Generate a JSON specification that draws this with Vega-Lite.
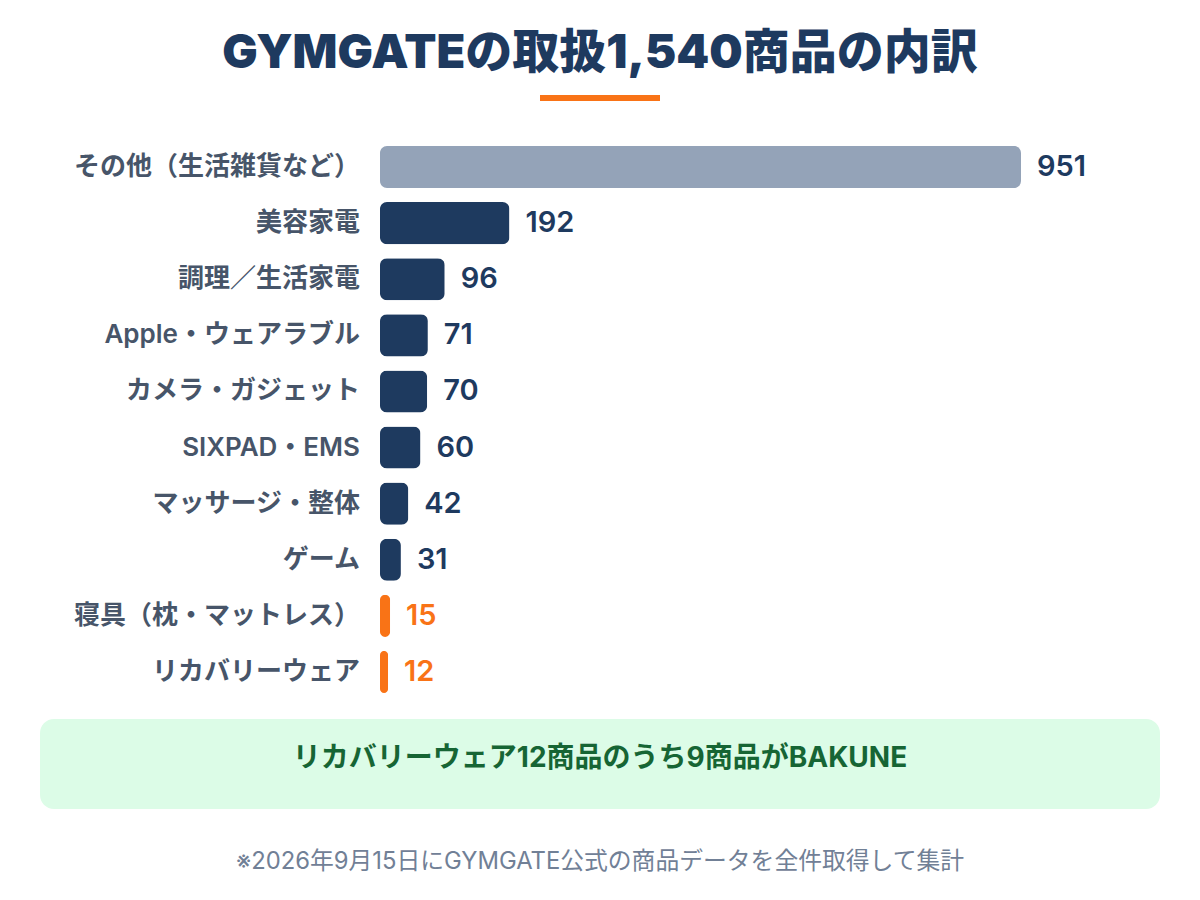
{
  "$schema": "https://vega.github.io/schema/vega-lite/v6.json",
  "description": "GYMGATE product breakdown",
  "padding": {"left": 40, "right": 40, "top": 30, "bottom": 0},
  "background": "white",
  "config": {
    "view": {"stroke": null},
    "font": "Inter, Noto Sans CJK JP"
  },
  "title": {
    "text": "GYMGATEの取扱1,540商品の内訳",
    "fontSize": 47,
    "fontWeight": 900,
    "color": "#1e3a5f",
    "anchor": "middle",
    "offset": 14
  },
  "bounds": "flush",
  "spacing": 44,
  "vconcat": [
    {
      "spacing": 0,
      "bounds": "flush",
      "hconcat": [
        {
          "width": 500,
          "height": 6,
          "data": {"values": [{"t": ""}]},
          "mark": "text",
          "encoding": {"text": {"field": "t"}}
        },
        {
          "width": 120,
          "height": 6,
          "view": {"fill": "#f97316", "stroke": null},
          "data": {"values": [{"t": ""}]},
          "mark": "text",
          "encoding": {"text": {"field": "t"}}
        }
      ]
    },
    {
      "spacing": 19,
      "vconcat": [
        {
          "width": 1120,
          "height": 561,
          "data": {
            "values": [
              {"category": "その他（生活雑貨など）", "count": 951, "group": "other"},
              {"category": "美容家電", "count": 192, "group": "main"},
              {"category": "調理／生活家電", "count": 96, "group": "main"},
              {"category": "Apple・ウェアラブル", "count": 71, "group": "main"},
              {"category": "カメラ・ガジェット", "count": 70, "group": "main"},
              {"category": "SIXPAD・EMS", "count": 60, "group": "main"},
              {"category": "マッサージ・整体", "count": 42, "group": "main"},
              {"category": "ゲーム", "count": 31, "group": "main"},
              {"category": "寝具（枕・マットレス）", "count": 15, "group": "accent"},
              {"category": "リカバリーウェア", "count": 12, "group": "accent"}
            ]
          },
          "encoding": {
            "y": {
              "field": "category",
              "type": "nominal",
              "sort": null,
              "axis": null,
              "scale": {"paddingInner": 0.25, "paddingOuter": 0.125}
            }
          },
          "layer": [
            {
              "mark": {"type": "bar", "cornerRadius": 7},
              "encoding": {
                "x": {
                  "field": "count",
                  "type": "quantitative",
                  "axis": null,
                  "scale": {"domain": [0, 951], "range": [340, 981], "nice": false}
                },
                "color": {
                  "field": "group",
                  "type": "nominal",
                  "legend": null,
                  "scale": {
                    "domain": ["other", "main", "accent"],
                    "range": ["#94a3b8", "#1e3a5f", "#f97316"]
                  }
                }
              }
            },
            {
              "mark": {
                "type": "text",
                "align": "right",
                "baseline": "middle",
                "dx": -20,
                "fontSize": 26,
                "fontWeight": 600,
                "color": "#475569"
              },
              "encoding": {
                "x": {"datum": 0, "type": "quantitative"},
                "text": {"field": "category"}
              }
            },
            {
              "mark": {
                "type": "text",
                "align": "left",
                "baseline": "middle",
                "dx": 16,
                "fontSize": 29,
                "fontWeight": 600
              },
              "encoding": {
                "x": {"field": "count", "type": "quantitative"},
                "text": {"field": "count"},
                "color": {
                  "condition": {"test": "datum.group === 'accent'", "value": "#f97316"},
                  "value": "#1e3a5f"
                }
              }
            }
          ]
        },
        {
          "width": 1120,
          "height": 90,
          "view": {"fill": "#dcfce7", "cornerRadius": 14, "stroke": null},
          "data": {"values": [{"msg": "リカバリーウェア12商品のうち9商品がBAKUNE"}]},
          "mark": {
            "type": "text",
            "fontSize": 28,
            "fontWeight": "bold",
            "color": "#166534",
            "baseline": "middle",
            "dy": -5
          },
          "encoding": {"text": {"field": "msg"}}
        },
        {
          "width": 1120,
          "height": 68,
          "data": {"values": [{"note": "※2026年9月15日にGYMGATE公式の商品データを全件取得して集計"}]},
          "mark": {
            "type": "text",
            "fontSize": 23.8,
            "color": "#718096",
            "baseline": "middle"
          },
          "encoding": {"text": {"field": "note"}}
        }
      ]
    }
  ]
}
